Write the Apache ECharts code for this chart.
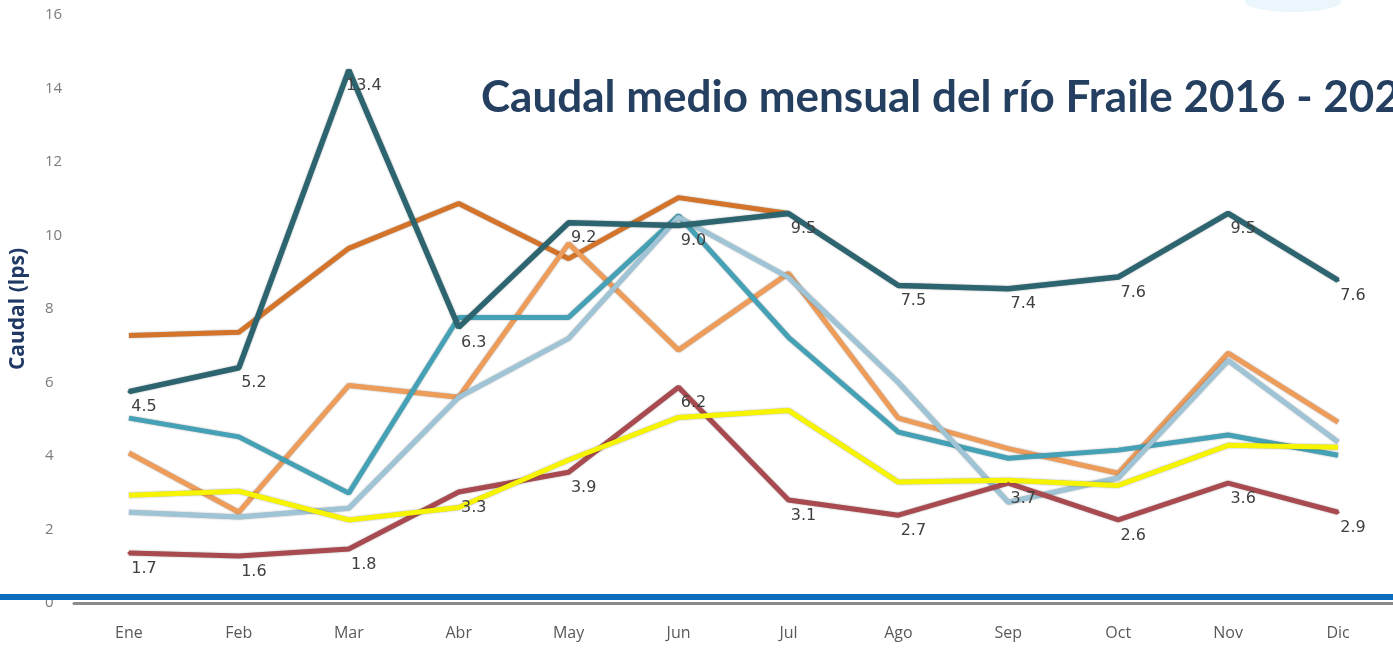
<!DOCTYPE html>
<html>
<head>
<meta charset="utf-8">
<style>
  html, body { margin: 0; padding: 0; background: #fff; }
  #chart { width: 1393px; height: 648px; }
</style>
<script src="https://cdn.jsdelivr.net/npm/echarts@6/dist/echarts.min.js"></script>
</head>
<body>
<div id="chart"></div>
<script>
var meses = ['Ene', 'Feb', 'Mar', 'Abr', 'May', 'Jun', 'Jul', 'Ago', 'Sep', 'Oct', 'Nov', 'Dic'];
var yTicks = [0, 2, 4, 6, 8, 10, 12, 14, 16];

// series
var serieVerdeOscuro = [5.75, 6.4, 14.5, 7.5, 10.35, 10.27, 10.6, 8.64, 8.55, 8.87, 10.6, 8.78];
var etiquetasVerdeOscuro = ['4.5', '5.2', '13.4', '6.3', '9.2', '9.0', '9.5', '7.5', '7.4', '7.6', '9.5', '7.6'];
var serieNaranja = [7.28, 7.37, 9.65, 10.87, 9.37, 11.03, 10.6, null, null, null, null, null];
var serieNaranjaClaro = [4.08, 2.47, 5.92, 5.6, 9.78, 6.88, 8.97, 5.03, 4.2, 3.53, 6.8, 4.92];
var serieAzulVerde = [5.03, 4.52, 2.99, 7.77, 7.77, 10.54, 7.23, 4.65, 3.94, 4.16, 4.57, 4.02];
var serieCeleste = [2.47, 2.34, 2.58, 5.6, 7.2, 10.5, 8.86, 6.0, 2.74, 3.4, 6.6, 4.38];
var serieAmarilla = [2.93, 3.04, 2.26, 2.6, 3.89, 5.05, 5.24, 3.29, 3.34, 3.2, 4.29, 4.24];
var serieRoja = [1.36, 1.28, 1.47, 3.02, 3.56, 5.87, 2.8, 2.39, 3.26, 2.26, 3.26, 2.47];
var etiquetasRoja = ['1.7', '1.6', '1.8', '3.3', '3.9', '6.2', '3.1', '2.7', '3.7', '2.6', '3.6', '2.9'];

function linea(nombre, datos, color, ancho, etiquetas) {
  var s = {
    name: nombre,
    type: 'line',
    data: datos,
    symbol: 'none',
    connectNulls: false,
    lineStyle: {
      color: color,
      width: ancho,
      shadowColor: 'rgba(0,0,0,0.35)',
      shadowBlur: 2
    },
    itemStyle: { color: color },
    z: 2
  };
  if (etiquetas) {
    s.symbol = 'circle';
    s.symbolSize = 3;
    s.showSymbol = true;
    s.showAllSymbol = true;
    s.itemStyle = { color: color, borderWidth: 0 };
    s.label = {
      show: true,
      position: 'bottom',
      distance: 6,
      offset: [15, 0],
      color: '#404040',
      fontSize: 16,
      fontFamily: 'DejaVu Sans',
      formatter: function (p) { return etiquetas[p.dataIndex]; }
    };
  }
  return s;
}

var chart = echarts.init(document.getElementById('chart'));
chart.setOption({
  animation: false,
  backgroundColor: '#ffffff',
  title: {
    text: 'Caudal medio mensual del río Fraile 2016 - 2022',
    left: 476,
    top: 71,
    textStyle: {
      color: '#243F60',
      fontFamily: 'Lato',
      fontWeight: 'bold',
      fontSize: 44
    }
  },
  grid: {
    left: 74,
    right: 0,
    top: 15,
    bottom: 45,
    containLabel: false
  },
  xAxis: {
    type: 'category',
    data: meses,
    boundaryGap: true,
    axisLine: { show: true, lineStyle: { color: '#8a8a8a', width: 3 } },
    axisTick: { show: false },
    axisLabel: {
      color: '#595959',
      fontSize: 16,
      margin: 22,
      fontFamily: "'Liberation Sans Narrow', 'Open Sans'"
    }
  },
  yAxis: {
    type: 'value',
    min: yTicks[0],
    max: yTicks[yTicks.length - 1],
    interval: 2,
    name: 'Caudal (lps)',
    nameLocation: 'middle',
    nameGap: 45,
    nameTextStyle: {
      color: '#1F3864',
      fontSize: 21,
      fontWeight: 'bold',
      fontFamily: 'Open Sans'
    },
    axisLine: { show: false },
    axisTick: { show: false },
    splitLine: { show: false },
    axisLabel: {
      color: '#7a7a7a',
      fontSize: 15,
      align: 'left',
      margin: 29,
      fontFamily: "'Open Sans'"
    }
  },
  graphic: [
    {
      type: 'rect',
      left: 0,
      top: 594,
      shape: { width: 1393, height: 6 },
      style: { fill: '#0E6EBE' },
      z: 100
    },
    {
      type: 'ellipse',
      left: 1245,
      top: -8,
      shape: { cx: 48, cy: 0, rx: 48, ry: 10 },
      style: { fill: '#EAF6FB' },
      z: 1
    }
  ],
  series: [
    linea('2016', serieNaranja, '#D4742A', 5),
    linea('2017', serieNaranjaClaro, '#EE9C5A', 5),
    linea('2018', serieAzulVerde, '#45A2B6', 5),
    linea('2019', serieCeleste, '#9EC4D6', 5),
    linea('2020', serieRoja, '#A84A4F', 5, etiquetasRoja),
    linea('2021', serieAmarilla, '#F6F400', 5),
    linea('2022', serieVerdeOscuro, '#2C6570', 5.5, etiquetasVerdeOscuro)
  ]
});
</script>
</body>
</html>
